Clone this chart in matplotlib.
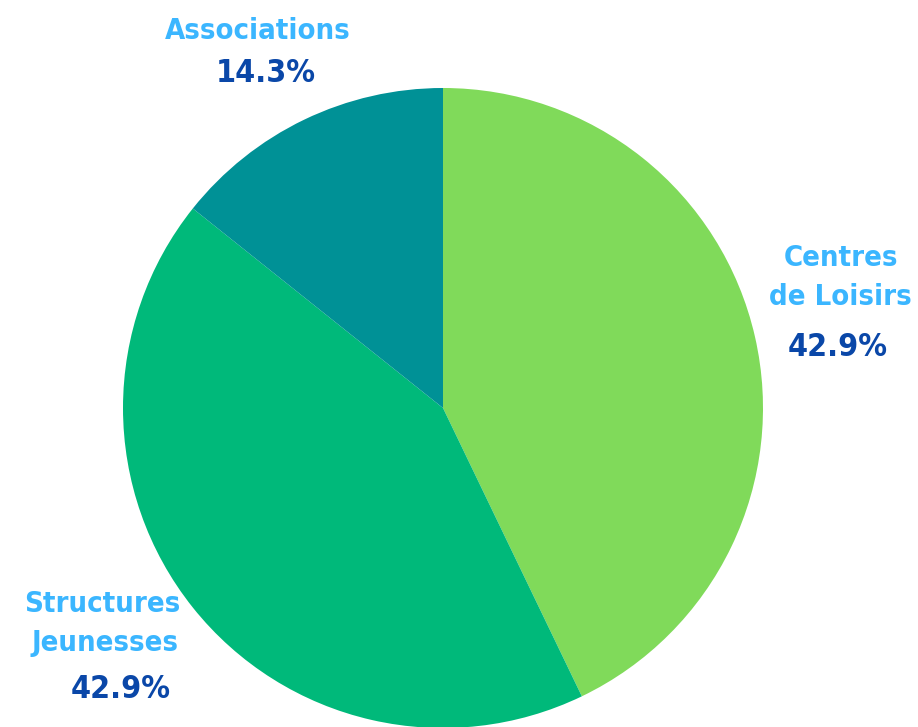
import matplotlib
matplotlib.use("Agg")
import matplotlib.pyplot as plt

labels = ["Centres\nde Loisirs", "Structures\nJeunesses", "Associations"]
values = [42.9, 42.9, 14.3]
colors = ["#80DA5A", "#00B97A", "#009196"]

name_color = "#3BB6FF"
pct_color = "#0A47A8"
font = dict(family="DejaVu Sans", weight="bold", stretch="condensed")

W, H = 918, 727
fig = plt.figure(figsize=(W / 100, H / 100), dpi=100)
ax = fig.add_axes([0, 0, 1, 1])
ax.pie(values, colors=colors, startangle=90, counterclock=False,
       center=(443, H - 408), radius=320, frame=True,
       wedgeprops=dict(linewidth=0))
ax.set_xlim(0, W)
ax.set_ylim(0, H)
ax.set_aspect("equal")
ax.axis("off")

# label positions in pixels from the top left
pos = {
    "Associations": [(258, 31, "center"), (266, 73, "center")],
    "Centres\nde Loisirs": [(841, 258, "center"), (840, 297, "center"), (838, 348, "center")],
    "Structures\nJeunesses": [(180, 604, "right"), (179, 643, "right"), (171, 690, "right")],
}
for lab, v in zip(labels, values):
    lines = lab.split("\n")
    p = pos[lab]
    for (x, y, ha), line in zip(p, lines):
        ax.text(x, H - y, line, ha=ha, va="center", color=name_color, fontsize=21, **font)
    x, y, ha = p[-1]
    ax.text(x, H - y, "%.1f%%" % v, ha=ha, va="center", color=pct_color, fontsize=23, **font)

fig.savefig("out.png", dpi=100)
